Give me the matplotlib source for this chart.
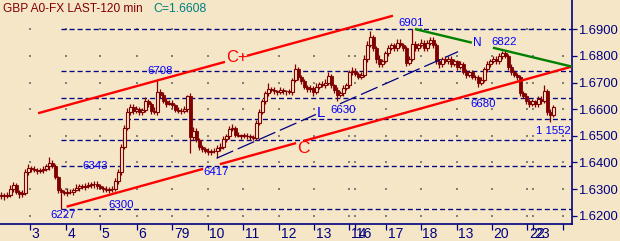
import matplotlib
matplotlib.use("Agg")
import matplotlib.pyplot as plt
import numpy as np
from matplotlib.transforms import ScaledTranslation

# ---- data (prices written as the 4 digits after "1.", e.g. 6278 -> 1.6278) ----
closes = [6278, 6276, 6279, 6300, 6315, 6290, 6282, 6285, 6364, 6379,
          6376, 6372, 6368, 6370, 6376, 6385, 6399, 6388, 6345, 6295,
          6288, 6287, 6291, 6289, 6298, 6305, 6310, 6308, 6312, 6315,
          6320, 6318, 6310, 6305, 6300, 6296, 6300, 6302, 6330, 6365,
          6460, 6530, 6590, 6610, 6595, 6600, 6590, 6596, 6630, 6620,
          6595, 6590, 6665, 6655, 6630, 6620, 6625, 6615, 6598, 6593,
          6595, 6600, 6650, 6495, 6520, 6485, 6460, 6450, 6445, 6440,
          6445, 6442, 6455, 6460, 6490, 6500, 6525, 6530, 6505, 6500,
          6502, 6499, 6501, 6496, 6492, 6550, 6590, 6630, 6660, 6675,
          6672, 6668, 6665, 6672, 6668, 6667, 6665, 6710, 6750, 6720,
          6705, 6685, 6675, 6680, 6665, 6685, 6695, 6690, 6700, 6725,
          6690, 6672, 6655, 6660, 6680, 6690, 6740, 6745, 6732, 6722,
          6730, 6790, 6840, 6870, 6830, 6790, 6770, 6780, 6810, 6830,
          6840, 6830, 6850, 6840, 6830, 6775, 6790, 6845, 6830, 6840,
          6850, 6830, 6850, 6860, 6840, 6780, 6770, 6790, 6780, 6790,
          6770, 6780, 6760, 6770, 6740, 6730, 6740, 6720, 6720, 6700,
          6710, 6750, 6770, 6780, 6790, 6780, 6800, 6810, 6800, 6760,
          6740, 6730, 6720, 6660, 6650, 6630, 6620, 6630, 6620, 6640,
          6630, 6670, 6590, 6580, 6608]
first_open = 6275
wick_up = [10, 8, 12, 15, 10, 8, 6, 12, 10, 15,
           8, 10, 6, 8, 12, 10, 23, 10, 8, 6,
           10, 8, 12, 10, 8, 15, 10, 8, 12, 10,
           8, 10, 12, 8, 6, 10, 8, 10, 12, 10,
           10, 12, 15, 10, 8, 12, 10, 8, 15, 10,
           8, 12, 43, 10, 8, 12, 10, 8, 6, 10,
           8, 12, 5, 10, 15, 10, 8, 6, 10, 8,
           6, 8, 10, 12, 10, 8, 12, 15, 8, 10,
           6, 8, 10, 6, 8, 10, 12, 10, 8, 25,
           8, 10, 6, 12, 8, 6, 10, 8, 20, 8,
           10, 8, 6, 10, 8, 12, 8, 10, 12, 15,
           8, 6, 10, 8, 12, 10, 8, 12, 10, 8,
           10, 12, 15, 25, 10, 8, 12, 10, 8, 12,
           10, 8, 12, 15, 10, 8, 10, 56, 10, 8,
           12, 10, 8, 10, 12, 8, 10, 6, 8, 10,
           8, 10, 6, 12, 8, 10, 6, 8, 10, 8,
           10, 8, 12, 10, 8, 10, 12, 10, 12, 8,
           10, 8, 6, 10, 8, 12, 10, 8, 6, 10,
           8, 20, 6, 10, 8]
wick_dn = [12, 15, 8, 10, 12, 8, 15, 10, 8, 12,
           10, 8, 12, 6, 10, 8, 12, 10, 8, 10,
           61, 10, 12, 8, 10, 6, 12, 8, 10, 8,
           10, 12, 8, 6, 10, 8, 12, 10, 8, 10,
           12, 10, 8, 10, 12, 8, 10, 12, 6, 10,
           12, 8, 10, 12, 8, 10, 6, 12, 10, 8,
           10, 8, 12, 58, 10, 8, 12, 10, 8, 10,
           12, 8, 25, 10, 8, 12, 10, 8, 10, 6,
           10, 8, 12, 10, 8, 6, 10, 8, 12, 10,
           8, 10, 12, 8, 10, 12, 8, 10, 8, 12,
           10, 8, 12, 10, 15, 8, 10, 8, 12, 10,
           12, 10, 25, 8, 10, 8, 12, 10, 8, 10,
           8, 10, 12, 8, 10, 15, 12, 10, 8, 10,
           8, 10, 12, 8, 10, 12, 10, 8, 12, 10,
           8, 10, 12, 8, 10, 12, 15, 10, 8, 12,
           10, 8, 12, 10, 8, 12, 10, 8, 12, 15,
           10, 8, 10, 12, 8, 10, 12, 10, 8, 12,
           10, 8, 12, 10, 8, 12, 10, 8, 10, 12,
           10, 8, 12, 28, 8]

day_pos = [9.5, 21.4, 32.9, 45.07, 56.93, 68.83, 80.6, 92.6, 104.17,
           115.93, 117.83, 128.17, 139.83, 151.73, 163.4, 175.27, 177.07, 187.07]
day_labels = ["3", "4", "5", "6", "79", "10", "11", "12", "13",
              "14", "16", "17", "18", "13", "20", "22", "23", ""]
price_ticks = [1.62, 1.63, 1.64, 1.65, 1.66, 1.67, 1.68, 1.69]

fib_low, fib_high, fib_start = 1.6227, 1.6901, 20
fib_ratios = [0, 0.236, 0.382, 0.5, 0.618, 0.764, 1.0]

lower_c = ([21.7, 190.1], [1.6234, 1.6760], [(67.2, 72.8), (98.2, 100.8)])
upper_c = ([12.2, 130.5], [1.6585, 1.6951], [(74.5, 81.8)])
green_n = ([137.8, 190.1], [1.6901, 1.6760], [(156.8, 163.8)])
blue_l = ([71.7, 152.2], [1.6416, 1.6816], [(104.8, 112.8)])

labels = [("6708", 48.5, 1.6743), ("6901", 132.2, 1.6925), ("6822", 163.2, 1.6853),
          ("6630", 109.5, 1.6597), ("6680", 156.2, 1.6620), ("1 1552", 178.2, 1.6518),
          ("6343", 26.8, 1.6388), ("6300", 35.5, 1.6240), ("6227", 16.2, 1.6203),
          ("6417", 67.2, 1.6365)]

# ---- style ----
BG = "#F5E6C8"
CANDLE = "#800000"
NAVY = "#000080"
plt.rcParams["lines.scale_dashes"] = False
REG = ["Liberation Sans", "DejaVu Sans"]

fig = plt.figure(figsize=(6.2, 2.41), dpi=100, facecolor=BG)
ax = fig.add_axes([0, 1 - 224.3 / 241, 572 / 620, 224.3 / 241])
ax.set_facecolor(BG)

n = len(closes)
x = np.arange(n)
c = 1 + np.array(closes) / 10000.0
o = np.concatenate([[1 + first_open / 10000.0], c[:-1]])
hi = np.maximum(o, c) + np.array(wick_up) / 10000.0
lo = np.minimum(o, c) - np.array(wick_dn) / 10000.0
up = c >= o

ax.vlines(x, lo, hi, color=CANDLE, lw=0.9, zorder=3)
h_dn = np.maximum(o - c, 0.00008)
ax.bar(x[~up], h_dn[~up], bottom=c[~up], width=0.8, color=CANDLE,
       edgecolor=CANDLE, lw=0.6, zorder=4)
h_up = np.maximum(c - o, 0.00008)
ax.bar(x[up], h_up[up], bottom=o[up], width=0.8, facecolor=BG,
       edgecolor=CANDLE, lw=0.8, zorder=4)

# fib levels
for r in fib_ratios:
    lvl = fib_low + r * (fib_high - fib_low)
    ax.plot([fib_start, 190.2], [lvl, lvl], color=NAVY, lw=0.95,
            linestyle=(0, (3.6, 2.2)), zorder=2)

# dot grid
gx, gy = np.meshgrid(day_pos, price_ticks)
ax.scatter(gx.ravel(), gy.ravel(), s=0.8, color="#808080", marker="s",
           linewidths=0, zorder=1)


def seg_line(line, **kw):
    xs, ps, gaps = line
    pts = [xs[0]]
    for g0, g1 in gaps:
        pts += [g0, g1]
    pts.append(xs[1])
    for k in range(0, len(pts), 2):
        a, b = pts[k], pts[k + 1]
        ax.plot([a, b], np.interp([a, b], xs, ps), **kw)


seg_line(lower_c, color="#FF0000", lw=1.7, zorder=5, solid_capstyle="butt")
seg_line(upper_c, color="#FF0000", lw=1.7, zorder=5, solid_capstyle="butt")
seg_line(green_n, color="#008000", lw=1.7, zorder=5, solid_capstyle="butt")
seg_line(blue_l, color=NAVY, lw=0.9, linestyle=(0, (13, 3.6)), zorder=5)

for t, lx, ly in labels:
    ax.text(lx, ly, t, color="#0000FF", fontsize=8.2, family=REG, ha="left",
            va="center", zorder=6)
ax.text(157.2, 1.6849, "N", color="#0000FF", fontsize=8.5, family=REG,
        ha="left", va="center", zorder=6)
ax.text(105.2, 1.6586, "L", color="#0000FF", fontsize=11, family=REG,
        ha="left", va="center", zorder=6)
ax.text(74.8, 1.6796, "C+", color="#FF0000", fontsize=12, family=REG,
        ha="left", va="center", zorder=6)
ax.text(98.5, 1.6454, "C", color="#FF0000", fontsize=12.5, family=REG,
        ha="left", va="center", zorder=6)

ax.text(3 / 572, 1 - 3 / 224.3, "GBP A0-FX LAST-120 min", transform=ax.transAxes,
        color="#800000", fontsize=8.6, family=REG, ha="left", va="top", zorder=7)
ax.text(153 / 572, 1 - 3.5 / 224.3, "C=1.6608", transform=ax.transAxes,
        color="#008080", fontsize=8.8, family=REG, ha="left", va="top", zorder=7)

ax.set_xlim(-0.5, 190.17)
ax.set_ylim(1.6168, 1.7010)

for s in ["left", "top"]:
    ax.spines[s].set_visible(False)
for s in ["right", "bottom"]:
    ax.spines[s].set_color(NAVY)
    ax.spines[s].set_linewidth(1.2)

ax.yaxis.tick_right()
ax.set_yticks(price_ticks)
ax.set_yticklabels([f"{p:.4f}" for p in price_ticks], family=REG, fontsize=9.4,
                   color=NAVY)
ax.tick_params(axis="y", direction="out", length=3.6, width=0.9, color=NAVY, pad=0.5)

ax.set_xticks(day_pos)
ax.set_xticklabels(day_labels, family=REG, fontsize=10, color=NAVY)
ax.tick_params(axis="x", direction="out", length=4.3, width=0.9, color=NAVY, pad=-2.4)
off = ScaledTranslation(1.5 / 100, 0, fig.dpi_scale_trans)
for lab in ax.get_xticklabels():
    lab.set_horizontalalignment("left")
    lab.set_transform(lab.get_transform() + off)

fig.savefig("out.png", dpi=100, facecolor=BG)
